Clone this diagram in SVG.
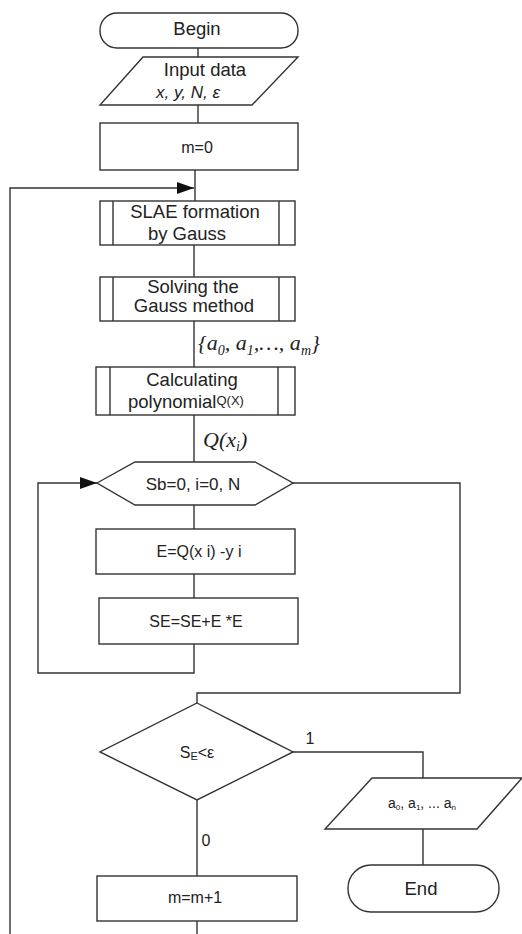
<svg xmlns="http://www.w3.org/2000/svg" width="522" height="934" viewBox="0 0 522 934">
<defs>
<style>
.s{fill:#fff;stroke:#333;stroke-width:1.4}
.c{fill:none;stroke:#333;stroke-width:1.4}
.t{font-family:"Liberation Sans",Arial,sans-serif;font-size:18.5px;fill:#222;text-anchor:middle}
.m{font-family:"Liberation Sans",Arial,sans-serif;font-size:16px;fill:#222;text-anchor:middle}
.r{font-family:"Liberation Serif","Times New Roman",serif;font-style:italic;font-size:22px;fill:#222}
</style>
<marker id="ah" markerUnits="userSpaceOnUse" markerWidth="18" markerHeight="12" refX="17" refY="6" orient="auto">
<path d="M0,0 L17,6 L0,12 Z" fill="#111"/>
</marker>
</defs>
<rect width="522" height="934" fill="#fff"/>
<g id="connectors">
<path class="c" d="M198 48 V57"/>
<path class="c" d="M198 105 V123"/>
<path class="c" d="M195 170 V201"/>
<path class="c" d="M197 921 V945 H10 V188 H194" marker-end="url(#ah)"/>
<path class="c" d="M194 245 V277"/>
<path class="c" d="M194 321 V367"/>
<path class="c" d="M194 415 V462"/>
<path class="c" d="M194 505 V529"/>
<path class="c" d="M194 574 V598"/>
<path class="c" d="M194 644 V673 H38 V483 H97" marker-end="url(#ah)"/>
<path class="c" d="M293 483 H460 V693 H197 V703"/>
<path class="c" d="M293 752 H423 V778"/>
<path class="c" d="M197 800 V876"/>
<path class="c" d="M423 829 V865"/>
<text class="m" x="310" y="744">1</text>
<text class="m" x="206" y="846">0</text>
<text class="r" x="198" y="350">{<tspan>a</tspan><tspan font-size="14" dy="5">0</tspan><tspan dy="-5">, a</tspan><tspan font-size="14" dy="5">1</tspan><tspan dy="-5">,…, a</tspan><tspan font-size="14" dy="5">m</tspan><tspan dy="-5">}</tspan></text>
<text class="r" x="203" y="447">Q(x<tspan font-size="14" dy="4">i</tspan><tspan dy="-4">)</tspan></text>
</g>
<g id="begin">
<rect class="s" x="100" y="13" width="198" height="35" rx="17"/>
<text class="t" x="197" y="35">Begin</text>
</g>
<g id="input">
<polygon class="s" points="143,57 298,57 252,105 100,105"/>
<text class="t" x="205" y="76">Input data</text>
<text class="t" x="188" y="98" font-style="italic" style="font-size:17px">x, y, N, ε</text>
</g>
<g id="m0">
<rect class="s" x="100" y="123" width="198" height="47"/>
<text class="m" x="197" y="153">m=0</text>
</g>
<g id="slae">
<rect class="s" x="100" y="201" width="195" height="44"/>
<path class="c" d="M113 201 V245 M279 201 V245"/>
<text class="t" x="195" y="218">SLAE formation</text>
<text class="t" x="187" y="240">by Gauss</text>
</g>
<g id="solving">
<rect class="s" x="100" y="277" width="195" height="44"/>
<path class="c" d="M113 277 V321 M279 277 V321"/>
<text class="t" x="193" y="293">Solving the</text>
<text class="t" x="194" y="312">Gauss method</text>
</g>
<g id="calc">
<rect class="s" x="96" y="367" width="199" height="48"/>
<path class="c" d="M110 367 V415 M278 367 V415"/>
<text class="t" x="192" y="386">Calculating</text>
<text class="t" x="128" y="408" style="text-anchor:start">polynomial<tspan font-size="13" dy="-3">Q(X)</tspan></text>
</g>
<g id="loop">
<polygon class="s" points="97,483 135,462 255,462 293,483 255,505 135,505"/>
<text class="m" x="193" y="490" style="font-size:17px">Sb=0, i=0, N</text>
</g>
<g id="err">
<rect class="s" x="96" y="529" width="199" height="45"/>
<text class="m" x="199" y="557">E=Q(x i) -y i</text>
</g>
<g id="sum">
<rect class="s" x="99" y="598" width="199" height="46"/>
<text class="m" x="196" y="627">SE=SE+E *E</text>
</g>
<g id="decision">
<polygon class="s" points="197,703 293,752 197,800 100,752"/>
<text class="m" x="197" y="758">S<tspan font-size="11" dy="2">E</tspan><tspan dy="-2">&lt;ε</tspan></text>
</g>
<g id="output">
<polygon class="s" points="372,778 522,778 477,829 325,829"/>
<text class="m" x="422" y="808" style="font-size:14px">a<tspan font-size="8" dy="2">0</tspan><tspan dy="-2">, a</tspan><tspan font-size="8" dy="2">1</tspan><tspan dy="-2">, ... a</tspan><tspan font-size="8" dy="2">n</tspan></text>
</g>
<g id="end">
<rect class="s" x="348" y="865" width="151" height="47" rx="23"/>
<text class="t" x="421" y="895">End</text>
</g>
<g id="inc">
<rect class="s" x="97" y="876" width="200" height="45"/>
<text class="m" x="195" y="903">m=m+1</text>
</g>
</svg>
